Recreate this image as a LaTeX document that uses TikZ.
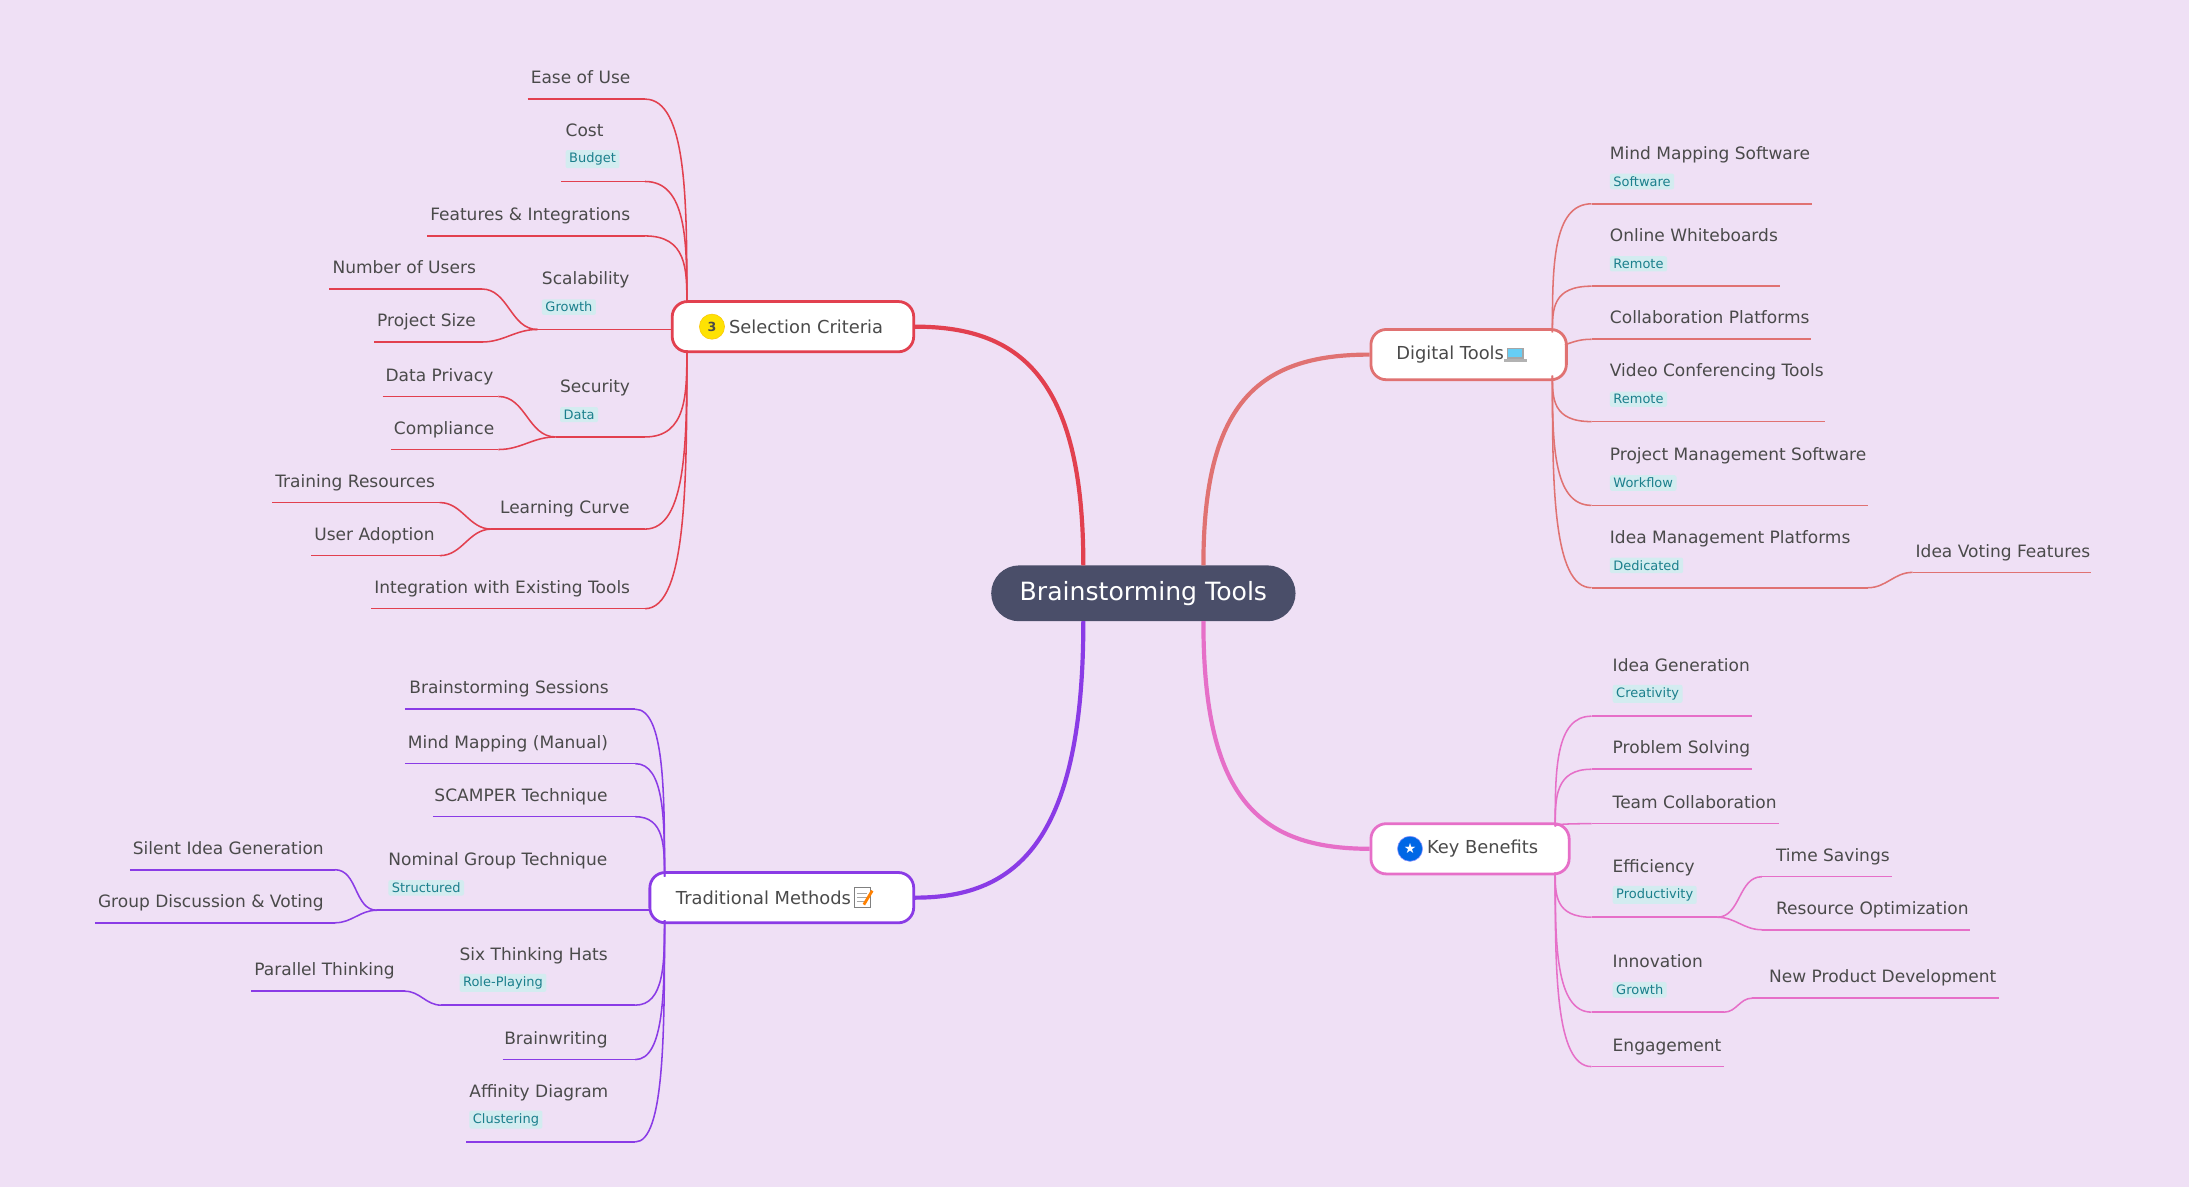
\documentclass[tikz,border=0pt]{standalone}
\usepackage{fontspec}
\setmainfont{DejaVu Sans}
\usetikzlibrary{shapes.geometric,calc}
\definecolor{bg}{HTML}{EFE0F5}
\definecolor{cS}{HTML}{E2404F}
\definecolor{cD}{HTML}{E07272}
\definecolor{cK}{HTML}{E66FC8}
\definecolor{cT}{HTML}{8A3BE6}
\definecolor{txt}{HTML}{4A4A4A}
\definecolor{tagbg}{HTML}{D3ECF0}
\definecolor{tagtx}{HTML}{1B7F8C}
\definecolor{root}{HTML}{4A4E69}
\tikzset{
 lbl/.style={text=txt,inner sep=0pt,font=\fontsize{12.2}{14}\selectfont},
 tag/.style={text=tagtx,fill=tagbg,rounded corners=1.5pt,inner xsep=2.5pt,inner ysep=2pt,font=\fontsize{9.3}{11}\selectfont},
 br/.style={line width=1.1pt},
 box/.style={draw,fill=white,line width=2pt,rounded corners=11pt,minimum height=36pt,inner sep=0pt},
 btxt/.style={text=txt,inner sep=0pt,font=\fontsize{12.8}{15}\selectfont},
 main/.style={line width=3pt}
}
\newcommand{\leaf}[7]{%
 \coordinate (#1a) at (#2,#4); \coordinate (#1b) at (#3,#4);
 \draw[br] (#1a)--(#1b);
 \if\relax\detokenize{#7}\relax
  \node[lbl,anchor=base west] (#1) at (#5,#4-11) {#6};
 \else
  \node[lbl,anchor=base west] (#1) at (#5,#4-32) {#6};
  \node[tag,anchor=west] (#1t) at (#5,#4-16) {#7};
 \fi}
% left-side connector: from line end to hub (vertical arrival)
\newcommand{\cL}[2]{\draw[br] (#1) .. controls (#2 |- #1) and ($(#2)!0.5!(#2 |- #1)$) .. (#2);}
% right-side connector: from hub to line start
\newcommand{\cR}[2]{\draw[br] (#1) .. controls ($(#1)!0.5!(#1 |- #2)$) and (#1 |- #2) .. (#2);}
\begin{document}
\begin{tikzpicture}[x=1pt,y=-1pt]
\fill[bg] (0,0) rectangle (1568,850);
\useasboundingbox (0,0) rectangle (1568,850);
% root
\node[fill=root,rounded corners=20pt,minimum width=218pt,minimum height=40pt,text=white,font=\fontsize{18}{20}\selectfont] (root) at (819,425) {Brainstorming Tools};
% main boxes
\node[box,draw=cS,minimum width=173pt] (sel) at (568,234) {};
\node[box,draw=cD,minimum width=140pt] (dig) at (1052,254) {};
\node[box,draw=cK,minimum width=142pt] (key) at (1053,608) {};
\node[box,draw=cT,minimum width=189pt] (tra) at (560,643) {};
\node[btxt,anchor=west] (selt) at (522,234) {Selection Criteria};
\node[btxt,anchor=west] (digt) at (1000,254) {Digital Tools};
\node[btxt,anchor=west] (keyt) at (1022,608) {Key Benefits};
\node[btxt,anchor=west] (trat) at (484,643) {Traditional Methods};
% icons
\node[circle,fill=yellow!85!orange,draw=yellow!60!orange,minimum size=18pt,inner sep=0pt,font=\bfseries\fontsize{9}{9}\selectfont,text=txt] (b3) at (510,234) {3};
\node[circle,fill=blue!55!cyan!90!black,draw=blue!40,minimum size=18pt,inner sep=0pt,text=white,font=\fontsize{10}{10}\selectfont] (bst) at (1010,608) {★};
\begin{scope}[shift={($(digt.east)+(8,0)$)}]
 \fill[gray!70] (-6,-5) rectangle (6,3); \fill[cyan!60] (-5,-4) rectangle (5,2);
 \fill[gray!60] (-8,3) rectangle (8,5);
\end{scope}
\begin{scope}[shift={($(trat.east)+(8,0)$)}]
 \fill[white] (-6,-7) rectangle (6,7); \draw[gray,line width=.6pt] (-6,-7) rectangle (6,7);
 \foreach \yy in {-3,0,3} \draw[gray!70,line width=.6pt] (-4,\yy)--(3,\yy);
 \draw[orange,line width=2pt] (1,5)--(7,-5);
\end{scope}
% main connectors
\draw[main,cS] (776,405) .. controls (776,270) and (730,234) .. (sel.east);
\draw[main,cD] (862,405) .. controls (862,290) and (900,254) .. (dig.west);
\draw[main,cT] (776,445) .. controls (776,600) and (730,643) .. (tra.east);
\draw[main,cK] (862,445) .. controls (862,570) and (900,608) .. (key.west);
% Selection criteria
\coordinate (sT) at (492,217); \coordinate (sB) at (492,251);
\begin{scope}[cS]
\leaf{e}{378}{462}{71}{380}{Ease of Use}{}
\leaf{c}{402}{462}{130}{405}{Cost}{Budget}
\leaf{f}{306}{462}{169}{308}{Features \& Integrations}{}
\leaf{sc}{385}{482}{236}{388}{Scalability}{Growth}
\leaf{nu}{236}{345}{207}{238}{Number of Users}{}
\leaf{ps}{268}{345}{245}{270}{Project Size}{}
\leaf{se}{398}{462}{313}{401}{Security}{Data}
\leaf{dp}{274}{357}{284}{276}{Data Privacy}{}
\leaf{co}{280}{357}{322}{282}{Compliance}{}
\leaf{lc}{352}{462}{379}{358}{Learning Curve}{}
\leaf{tr}{195}{315}{360}{197}{Training Resources}{}
\leaf{ua}{223}{315}{398}{225}{User Adoption}{}
\leaf{in}{266}{462}{436}{268}{Integration with Existing Tools}{}
\cL{eb}{sT} \cL{cb}{sT} \cL{fb}{sT}
\cL{seb}{sB} \cL{lcb}{sB} \cL{inb}{sB}
\foreach \n/\m in {nu/sc,ps/sc,dp/se,co/se,tr/lc,ua/lc} \draw[br] (\n b) to[out=0,in=180] (\m a);
\end{scope}
% Digital tools
\coordinate (dT) at (1112,238); \coordinate (dB) at (1112,269); \coordinate (dR) at (1121,247);
\begin{scope}[cD]
\leaf{mm}{1140}{1298}{146}{1153}{Mind Mapping Software}{Software}
\leaf{ow}{1140}{1275}{205}{1153}{Online Whiteboards}{Remote}
\leaf{cp}{1140}{1297}{243}{1153}{Collaboration Platforms}{}
\leaf{vc}{1140}{1307}{302}{1153}{Video Conferencing Tools}{Remote}
\leaf{pm}{1140}{1338}{362}{1153}{Project Management Software}{Workflow}
\leaf{im}{1140}{1338}{421}{1153}{Idea Management Platforms}{Dedicated}
\leaf{iv}{1370}{1498}{410}{1372}{Idea Voting Features}{}
\cR{dT}{mma} \cR{dT}{owa}
\draw[br] (dR) to[out=20,in=180] (cpa);
\cR{dB}{vca} \cR{dB}{pma} \cR{dB}{ima}
\draw[br] (imb) to[out=0,in=180] (iva);
\end{scope}
% Key benefits
\coordinate (kT) at (1114,592); \coordinate (kB) at (1114,625);
\begin{scope}[cK]
\leaf{ig}{1140}{1255}{513}{1155}{Idea Generation}{Creativity}
\leaf{pb}{1140}{1255}{551}{1155}{Problem Solving}{}
\leaf{tc}{1140}{1274}{590}{1155}{Team Collaboration}{}
\leaf{ef}{1140}{1230}{657}{1155}{Efficiency}{Productivity}
\leaf{ts}{1262}{1355}{628}{1272}{Time Savings}{}
\leaf{ro}{1262}{1411}{666}{1272}{Resource Optimization}{}
\leaf{iv2}{1140}{1235}{725}{1155}{Innovation}{Growth}
\leaf{np}{1255}{1432}{715}{1267}{New Product Development}{}
\leaf{en}{1140}{1235}{764}{1155}{Engagement}{}
\cR{kT}{iga} \cR{kT}{pba} \cR{kT}{tca}
\cR{kB}{efa} \cR{kB}{iv2a} \cR{kB}{ena}
\foreach \n/\m in {ts/ef,ro/ef,np/iv2} \draw[br] (\m b) to[out=0,in=180] (\n a);
\end{scope}
% Traditional methods
\coordinate (tT) at (476,628); \coordinate (tB) at (476,659);
\begin{scope}[cT]
\leaf{bs}{290}{455}{508}{293}{Brainstorming Sessions}{}
\leaf{mmm}{290}{455}{547}{292}{Mind Mapping (Manual)}{}
\leaf{sca}{310}{455}{585}{311}{SCAMPER Technique}{}
\leaf{ng}{270}{466}{652}{278}{Nominal Group Technique}{Structured}
\leaf{si}{93}{240}{623}{95}{Silent Idea Generation}{}
\leaf{gd}{68}{240}{661}{70}{Group Discussion \& Voting}{}
\leaf{sh}{316}{455}{720}{329}{Six Thinking Hats}{Role-Playing}
\leaf{pt}{180}{290}{710}{182}{Parallel Thinking}{}
\leaf{bw}{360}{455}{759}{361}{Brainwriting}{}
\leaf{ad}{334}{455}{818}{336}{Affinity Diagram}{Clustering}
\cL{bsb}{tT} \cL{mmmb}{tT} \cL{scab}{tT}
\cL{shb}{tB} \cL{bwb}{tB} \cL{adb}{tB}
\foreach \n/\m in {si/ng,gd/ng,pt/sh} \draw[br] (\n b) to[out=0,in=180] (\m a);
\end{scope}
\end{tikzpicture}
\end{document}
